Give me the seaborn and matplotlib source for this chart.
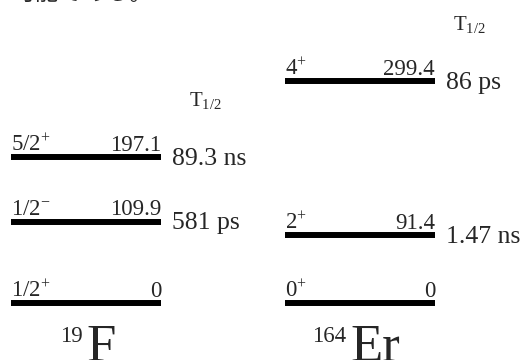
import matplotlib
matplotlib.use("Agg")
import pandas as pd
import matplotlib.pyplot as plt
import seaborn as sns

# level data (keV) for the two nuclei
nuclei = ["F", "Er"]
mass_numbers = ["19", "164"]
f_energies = [0, 109.9, 197.1]
f_spins = ["1/2$^{+}$", "1/2$^{-}$", "5/2$^{+}$"]
f_halflives = ["", "581 ps", "89.3 ns"]
er_energies = [0, 91.4, 299.4]
er_spins = ["0$^{+}$", "2$^{+}$", "4$^{+}$"]
er_halflives = ["", "1.47 ns", "86 ps"]
header_text = "可能である。"

HALF = 0.274  # half width of a level line, in column units

sns.set_theme(style="white")
plt.rcParams["font.family"] = ["Liberation Serif", "DejaVu Serif"]
plt.rcParams["mathtext.fontset"] = "custom"
plt.rcParams["mathtext.rm"] = "Liberation Serif"
plt.rcParams["mathtext.it"] = "Liberation Serif:italic"
plt.rcParams["mathtext.bf"] = "Liberation Serif:bold"

rows = []
schemes = [(f_energies, f_spins, f_halflives), (er_energies, er_spins, er_halflives)]
for col, (energies, spins, hls) in enumerate(schemes):
    for i, e in enumerate(energies):
        rows.append({"col": col, "level": f"{col}-{i}", "energy": e,
                     "spin": spins[i], "halflife": hls[i]})
levels = pd.DataFrame(rows)
segs = pd.concat([levels.assign(x=levels["col"] - HALF),
                  levels.assign(x=levels["col"] + HALF)])

fig = plt.figure(figsize=(5.24, 3.6), dpi=100)
ax = fig.add_axes([0, 0, 1, 1])
sns.lineplot(data=segs, x="x", y="energy", units="level", estimator=None,
             sort=False, color="black", lw=4.3, solid_capstyle="butt",
             legend=False, ax=ax)
ax.set_xlim(-0.314, 1.5985)
ax.set_ylim(-77, 409.5)
ax.axis("off")

top_hl = {}
for _, lv in levels.iterrows():
    left, right = lv["col"] - HALF, lv["col"] + HALF
    e = lv["energy"]
    label = "0" if e == 0 else f"{e:.1f}"
    ax.annotate(lv["spin"], xy=(left, e), xytext=(0, 4.5), textcoords="offset points",
                ha="left", va="baseline", fontsize=16.5)
    ax.annotate(label, xy=(right, e), xytext=(0, 4.5), textcoords="offset points",
                ha="right", va="baseline", fontsize=16.5)
    if lv["halflife"]:
        t = ax.annotate(lv["halflife"], xy=(right, e), xytext=(8, -5.5),
                        textcoords="offset points", ha="left", va="baseline",
                        fontsize=18.5)
        top_hl[lv["col"]] = (t, e)

for col, nuc in enumerate(nuclei):
    t, top = top_hl[col]
    ax.annotate("T$_{1/2}$", xy=(0.5, top), xycoords=(t, "data"), xytext=(-3, 36.7),
                textcoords="offset points", ha="center", va="baseline", fontsize=15)
    sym = ax.annotate(nuc, xy=(col, 0), xytext=(11, -41.5), textcoords="offset points",
                      ha="center", va="baseline", fontsize=38)
    ax.annotate(mass_numbers[col], xy=(0, 1), xycoords=sym, xytext=(-3, -2),
                textcoords="offset points", ha="right", va="top", fontsize=16.5)

# sentence from the surrounding page, mostly cut off at the top edge
fig.text(12 / 524, 1 + 0.5 / 360, header_text, fontsize=17, va="baseline",
         family=["Noto Sans CJK JP", "DejaVu Sans"])

fig.savefig("out.png", dpi=100)
